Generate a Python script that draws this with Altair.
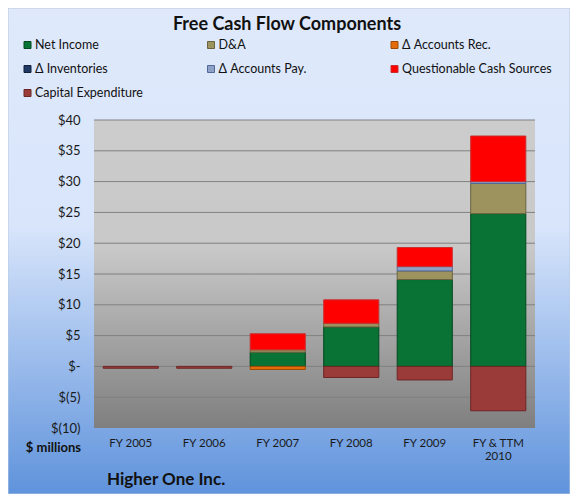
import altair as alt
import pandas as pd

years = ["FY 2005", "FY 2006", "FY 2007", "FY 2008", "FY 2009", "FY & TTM|2010"]
components = ["Net Income", "D&A", "Δ Accounts Rec.", "Δ Inventories",
              "Δ Accounts Pay.", "Questionable Cash Sources", "Capital Expenditure"]
net_income = [0.0, 0.0, 2.3, 6.4, 14.1, 24.8]
d_and_a = [0.0, 0.0, 0.4, 0.6, 1.4, 4.9]
accounts_rec = [0.0, 0.0, -0.5, 0.0, 0.0, 0.0]
inventories = [0.0, 0.0, 0.0, 0.0, 0.0, 0.0]
accounts_pay = [0.0, 0.0, 0.0, 0.0, 0.7, 0.3]
questionable = [0.0, 0.0, 2.6, 3.8, 3.1, 7.4]
capex = [-0.3, -0.3, 0.0, -1.8, -2.2, -7.2]
tick_values = [-10, -5, 0, 5, 10, 15, 20, 25, 30, 35, 40]
grid_values = [-5, 0, 5, 10, 15, 20, 25, 30, 35, 40]

fills = ["#087335", "#9c935e", "#e46c0a", "#1f3864", "#8ea2c8", "#ff0000", "#9b3b39"]
strokes = ["#03491f", "#6b6340", "#a04a05", "#10203d", "#50689a", "#c83030", "#6d2625"]

series = [net_income, d_and_a, accounts_rec, inventories, accounts_pay, questionable, capex]
rows = []
for i, yr in enumerate(years):
    for j, (name, vals) in enumerate(zip(components, series)):
        if vals[i] != 0:
            rows.append({"year": yr, "component": name, "value": vals[i], "order": j})
df = pd.DataFrame(rows)

W, H = 441, 308
PL, PT, PR, PB = 86, 112, 35, 66

one = pd.DataFrame({"a": [0]})

bg = alt.Chart(one).mark_rect(fill={
    "gradient": "linear", "x1": 0, "y1": 0, "x2": 0, "y2": 1,
    "stops": [{"offset": 0, "color": "#dfe9fb"},
              {"offset": 0.45, "color": "#d8e5fb"},
              {"offset": 1, "color": "#5f93dc"}]},
    stroke="#b9c9e0", strokeWidth=1).encode(
    x=alt.value(-PL), x2=alt.value(W + PR), y=alt.value(-PT), y2=alt.value(H + PB))

plotbg = alt.Chart(one).mark_rect(fill={
    "gradient": "linear", "x1": 0, "y1": 0, "x2": 0, "y2": 1,
    "stops": [{"offset": 0, "color": "#cccccc"},
              {"offset": 0.42, "color": "#c8c8c8"},
              {"offset": 1, "color": "#7f7f7f"}]}).encode(
    x=alt.value(0), x2=alt.value(W), y=alt.value(0), y2=alt.value(H))

yscale = alt.Scale(domain=[-10, 40], nice=False)
yaxis = alt.Axis(values=tick_values, grid=False,
                 labelExpr="datum.value == 0 ? '$-' : (datum.value < 0 ? '$(' + abs(datum.value) + ')' : '$' + datum.value)",
                 labelFont="Lato", labelFontSize=13, labelColor="#1a1a1a",
                 labelPadding=14, domain=False, ticks=False, zindex=1, title=None)

grid = alt.Chart(pd.DataFrame({"g": grid_values})).mark_rule(
    color="#808080", strokeWidth=1).encode(
    y=alt.Y("g:Q", scale=yscale, axis=yaxis, title=None), x=alt.value(0), x2=alt.value(W))

bars = alt.Chart(df).mark_bar(strokeWidth=1).encode(
    x=alt.X("year:N", sort=years, title=None,
            scale=alt.Scale(paddingInner=0.25, paddingOuter=0.125),
            axis=alt.Axis(labelExpr="split(datum.label, '|')", labelAngle=0,
                          labelFont="Lato", labelFontSize=11.5, labelColor="#1a1a1a",
                          labelPadding=9, domain=False, ticks=False, zindex=1)),
    y=alt.Y("value:Q", stack="zero", scale=yscale, title=None, axis=yaxis),
    color=alt.Color("component:N", scale=alt.Scale(domain=components, range=fills), legend=None),
    stroke=alt.Stroke("component:N", scale=alt.Scale(domain=components, range=strokes), legend=None),
    order=alt.Order("order:Q"),
)

title = alt.Chart(one).mark_text(text="Free Cash Flow Components", font="Lato",
                                 fontSize=18, fontWeight="bold", color="#111111",
                                 align="center", baseline="middle").encode(
    x=alt.value(193), y=alt.value(-95))

units = alt.Chart(one).mark_text(text="$ millions", font="Lato", fontSize=13,
                                 fontWeight="bold", color="#111111",
                                 align="right", baseline="middle").encode(
    x=alt.value(-13), y=alt.value(328))

company = alt.Chart(one).mark_text(text="Higher One Inc.", font="Lato", fontSize=17,
                                   fontWeight="bold", color="#111111",
                                   align="left", baseline="middle").encode(
    x=alt.value(13), y=alt.value(360))

legend_x = [-66.5, 117, 300.5]
legend_y = [-75, -51, -27]
leg = pd.DataFrame({
    "component": components,
    "lx": [legend_x[i % 3] for i in range(len(components))],
    "ly": [legend_y[i // 3] for i in range(len(components))],
})

leg_sym = alt.Chart(leg).mark_square(size=49, strokeWidth=1, opacity=1).encode(
    x=alt.X("lx:Q", scale=None), y=alt.Y("ly:Q", scale=None),
    color=alt.Color("component:N", scale=alt.Scale(domain=components, range=fills), legend=None),
    stroke=alt.Stroke("component:N", scale=alt.Scale(domain=components, range=strokes), legend=None),
)
leg_txt = alt.Chart(leg).mark_text(font="Lato", fontSize=12.5, color="#111111",
                                   align="left", baseline="middle", dx=7.5).encode(
    x=alt.X("lx:Q", scale=None), y=alt.Y("ly:Q", scale=None), text="component:N")

chart = alt.layer(bg, plotbg, grid, bars, title, units, company, leg_sym, leg_txt).properties(
    width=W, height=H,
    autosize=alt.AutoSizeParams(type="none"),
    padding={"left": PL, "top": PT, "right": PR, "bottom": PB},
).configure_view(stroke=None).resolve_scale(color="shared", stroke="shared")

chart.save("out.html", embed_options={"renderer": "svg", "actions": False})
